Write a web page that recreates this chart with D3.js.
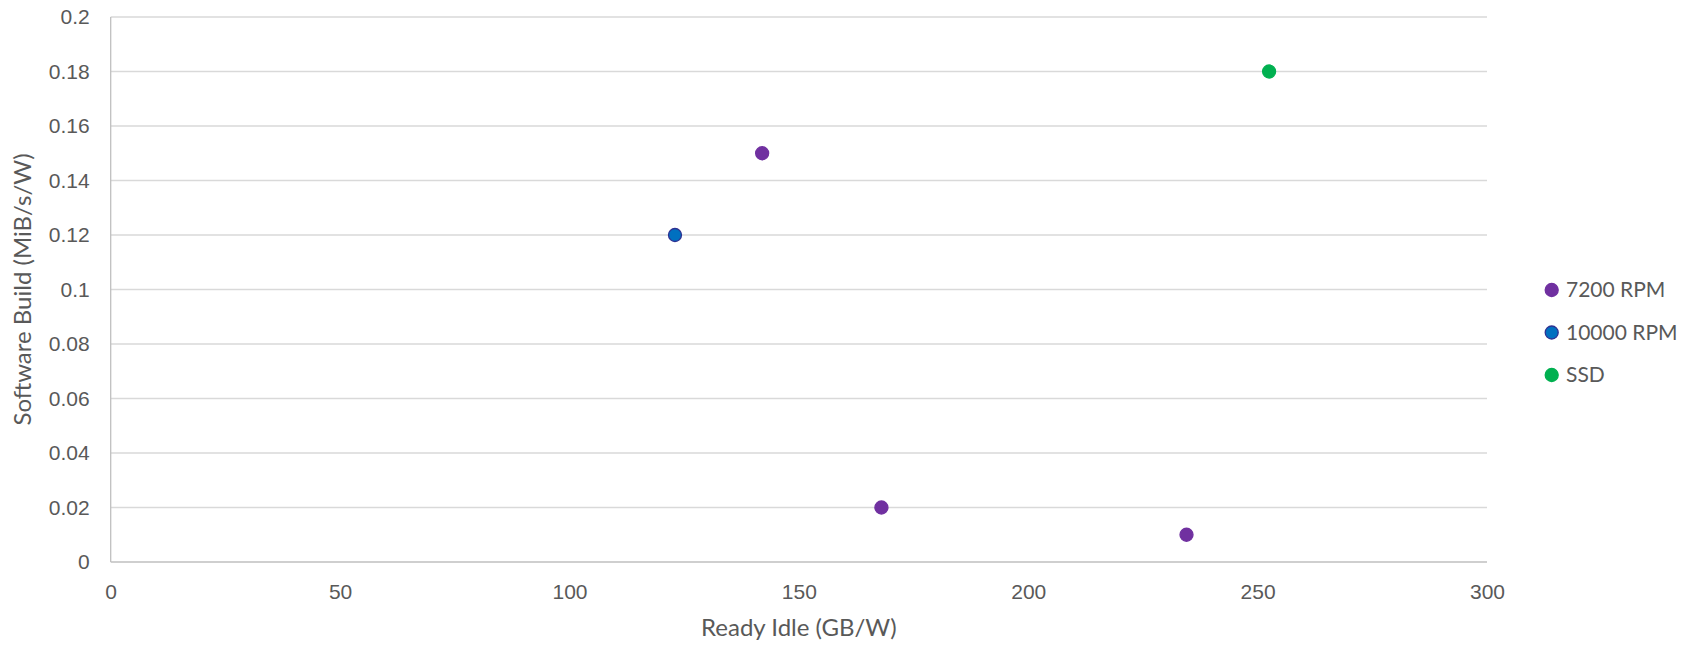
<!DOCTYPE html>
<html>
<head>
<meta charset="utf-8">
<script src="https://cdn.jsdelivr.net/npm/d3@7"></script>
<style>
html,body{margin:0;padding:0;background:#fff;}
svg{display:block;font-family:"Gill Sans","Gill Sans MT",Lato,"Open Sans",sans-serif;}
</style>
</head>
<body>
<svg id="chart" width="1690" height="646"></svg>
<script>
const seriesNames = ["7200 RPM", "10000 RPM", "SSD"];
const seriesColors = ["#7030A0", "#0070C0", "#00B050"];
const seriesStrokes = ["#7030A0", "#2E3192", "#00B050"];
const x7200 = [142, 168, 234.5];
const y7200 = [0.15, 0.02, 0.01];
const x10000 = [123];
const y10000 = [0.12];
const xSSD = [252.5];
const ySSD = [0.18];
const xTicks = [0, 50, 100, 150, 200, 250, 300];
const yTicks = [0, 0.02, 0.04, 0.06, 0.08, 0.1, 0.12, 0.14, 0.16, 0.18, 0.2];
const xTitle = "Ready Idle (GB/W)";
const yTitle = "Software Build (MiB/s/W)";

const series = [
  {name: seriesNames[0], xs: x7200, ys: y7200},
  {name: seriesNames[1], xs: x10000, ys: y10000},
  {name: seriesNames[2], xs: xSSD, ys: ySSD}
];

const svg = d3.select("#chart");
const L = 110.7, R = 1487, T = 17, B = 562;
const x = d3.scaleLinear().domain([0, 300]).range([L, R]);
const y = d3.scaleLinear().domain([0, 0.2]).range([B, T]);
const textColor = "#595959";
const fs = 21;
const tfs = 24;

// gridlines
svg.append("g").selectAll("line").data(yTicks.filter(d => d > 0)).join("line")
  .attr("x1", L).attr("x2", R)
  .attr("y1", d => y(d)).attr("y2", d => y(d))
  .attr("stroke", "#d9d9d9").attr("stroke-width", 1.3);

// axes lines
svg.append("line").attr("x1", L).attr("x2", R).attr("y1", B).attr("y2", B)
  .attr("stroke", "#bfbfbf").attr("stroke-width", 1.3);
svg.append("line").attr("x1", L).attr("x2", L).attr("y1", T).attr("y2", B)
  .attr("stroke", "#bfbfbf").attr("stroke-width", 1.3);

// x axis
const xAxis = d3.axisBottom(x).tickValues(xTicks).tickSize(0).tickPadding(0).tickFormat(d3.format("d"));
const gx = svg.append("g").attr("transform", `translate(0,${B})`).call(xAxis);
gx.select(".domain").remove();
gx.selectAll("text").attr("y", 30).attr("dy", "0.32em").attr("fill", textColor)
  .style("font-size", fs + "px").style("font-family", null);

// y axis
const yAxis = d3.axisLeft(y).tickValues(yTicks).tickSize(0).tickPadding(0).tickFormat(d => String(+d.toFixed(2)));
const gy = svg.append("g").attr("transform", `translate(${L},0)`).call(yAxis);
gy.select(".domain").remove();
gy.selectAll("text").attr("x", -21).attr("dy", "0.32em").attr("fill", textColor)
  .style("font-size", fs + "px").style("font-family", null);

// titles
svg.append("text").attr("x", (L + R) / 2).attr("y", 628).attr("dy", "0.32em")
  .attr("text-anchor", "middle").attr("fill", textColor).style("font-size", tfs + "px").text(xTitle);
svg.append("text").attr("transform", `translate(23,${(T + B) / 2}) rotate(-90)`).attr("dy", "0.32em")
  .attr("text-anchor", "middle").attr("fill", textColor).style("font-size", tfs + "px").text(yTitle);

// points
series.forEach((s, i) => {
  const pts = s.xs.map((v, j) => [v, s.ys[j]]);
  svg.append("g").selectAll("circle").data(pts).join("circle")
    .attr("cx", d => x(d[0])).attr("cy", d => y(d[1])).attr("r", 6.5)
    .attr("fill", seriesColors[i]).attr("stroke", seriesStrokes[i]).attr("stroke-width", 1.3);
});

// legend
const lg = svg.append("g");
series.forEach((s, i) => {
  const cy = 290 + i * 42.5;
  lg.append("circle").attr("cx", 1551.7).attr("cy", cy).attr("r", 6.5)
    .attr("fill", seriesColors[i]).attr("stroke", seriesStrokes[i]).attr("stroke-width", 1.3);
  lg.append("text").attr("x", 1566).attr("y", cy).attr("dy", "0.34em")
    .attr("fill", textColor).style("font-size", fs + "px").text(s.name);
});
</script>
</body>
</html>
